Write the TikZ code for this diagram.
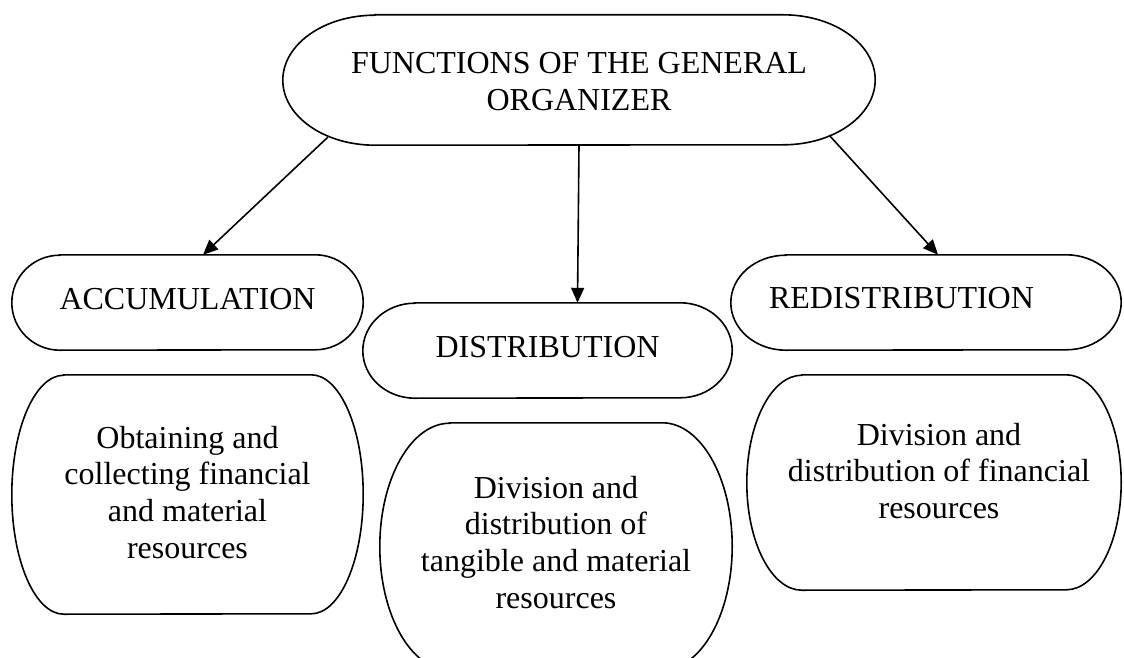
\documentclass[tikz,border=0pt]{standalone}
\usepackage{fontspec}
\setmainfont{Liberation Serif}
\usetikzlibrary{calc,arrows.meta}
\tikzset{
  box/.style={draw=none, inner sep=0pt, font=\fontsize{32}{36.7}\selectfont},
  outline/.style={line width=1.6pt},
  arr/.style={line width=1.6pt, -{Triangle[length=15pt,width=13pt]}},
}
% #1 node name, #2 horizontal radius of the rounded ends, #3 vertical radius
\newcommand{\termshape}[3]{%
  \draw[outline] ($(#1.north west)+(#2,0)$) -- ($(#1.north east)+(-#2,0)$)
    arc[start angle=90,end angle=-90,x radius=#2pt,y radius=#3pt]
    -- ($(#1.south west)+(#2,0)$)
    arc[start angle=270,end angle=90,x radius=#2pt,y radius=#3pt] -- cycle;}
% #1 raise of first baseline above node centre, #2 lines
\newcommand{\boxtext}[2]{\raisebox{#1}[0pt][0pt]{\begin{tabular}[t]{@{}c@{}}#2\end{tabular}}}
\begin{document}
\begin{tikzpicture}[x=1pt,y=-1pt]
\useasboundingbox (0,0) rectangle (1124,658);
\clip (0,0) rectangle (1124,658);
\fill[white] (0,0) rectangle (1124,658);

\node[box, minimum width=592pt, minimum height=130pt] (top) at (579,80)
  {\boxtext{6pt}{FUNCTIONS OF THE GENERAL\\ORGANIZER}};
\node[box, minimum width=351pt, minimum height=95pt] (acc) at (187.5,302.5)
  {\boxtext{-6.5pt}{ACCUMULATION}};
\node[box, minimum width=369pt, minimum height=95pt] (dist) at (547.5,350.5)
  {\boxtext{-6.5pt}{DISTRIBUTION}};
\node[box, minimum width=390pt, minimum height=95pt] (red) at (926,302.5)
  {\boxtext{-5.5pt}{REDISTRIBUTION\hspace*{49pt}}};
\node[box, minimum width=351pt, minimum height=239pt] (accd) at (187.5,494.5)
  {\boxtext{46.5pt}{Obtaining and\\collecting financial\\and material\\resources}};
\node[box, minimum width=352pt, minimum height=247pt] (distd) at (556,546.5)
  {\boxtext{48.5pt}{Division and\\distribution of\\tangible and material\\resources}};
\node[box, minimum width=374pt, minimum height=215pt] (redd) at (934,482.5)
  {\boxtext{37.5pt}{\hspace*{10pt}Division and\\\hspace*{10pt}distribution of financial\\\hspace*{10pt}resources}};

\termshape{top}{92}{65}
\termshape{acc}{48}{47.5}
\termshape{dist}{52}{47.5}
\termshape{red}{55}{47.5}
\termshape{accd}{52}{119.5}
\termshape{distd}{70}{123.5}
\termshape{redd}{55}{107.5}

\draw[arr] ($(top.south west)+(45,-8)$) -- ($(acc.north)+(15.5,0)$);
\draw[arr] (top.south) -- ($(dist.north)+(30,0)$);
\draw[arr] ($(top.south east)+(-46,-10)$) -- ($(red.north)+(12,0)$);
\end{tikzpicture}
\end{document}
